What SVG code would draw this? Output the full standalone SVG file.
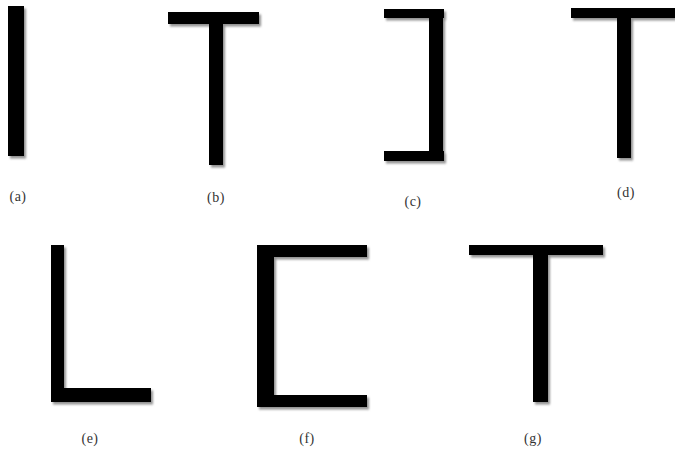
<svg xmlns="http://www.w3.org/2000/svg" width="675" height="453" viewBox="0 0 675 453">
<defs>
<filter id="sh" x="-20%" y="-20%" width="150%" height="150%">
<feDropShadow dx="2" dy="2.5" stdDeviation="1" flood-color="#777" flood-opacity="0.8"/>
</filter>
<style>
.b{fill:#000}
.s{filter:url(#sh)}
.lbl{font-family:"Liberation Serif","Times New Roman",serif;font-size:14px;letter-spacing:0.5px;fill:#333;text-anchor:middle}
</style>
</defs>
<rect width="675" height="453" fill="#fff"/>
<g id="a">
<g class="s"><rect class="b" x="8" y="6" width="16" height="150"/></g>
<text class="lbl" x="18" y="201">(a)</text>
</g>
<g id="b">
<g class="s"><rect class="b" x="168" y="12" width="91" height="12"/><rect class="b" x="209" y="24" width="14" height="141"/></g>
<text class="lbl" x="216" y="202">(b)</text>
</g>
<g id="c">
<g class="s"><rect class="b" x="384" y="9" width="60" height="9"/><rect class="b" x="429" y="18" width="14" height="134"/><rect class="b" x="384" y="151" width="60" height="10"/></g>
<text class="lbl" x="413" y="206">(c)</text>
</g>
<g id="d">
<g class="s"><rect class="b" x="571" y="8" width="104" height="10"/><rect class="b" x="617" y="18" width="14" height="140"/></g>
<text class="lbl" x="626" y="197">(d)</text>
</g>
<g id="e">
<g class="s"><rect class="b" x="51" y="245" width="13" height="157"/><rect class="b" x="51" y="388" width="100" height="14"/></g>
<text class="lbl" x="90" y="443">(e)</text>
</g>
<g id="f">
<g class="s"><rect class="b" x="257" y="245" width="110" height="12"/><rect class="b" x="257" y="257" width="17" height="150"/><rect class="b" x="257" y="395" width="110" height="12"/></g>
<text class="lbl" x="307" y="443">(f)</text>
</g>
<g id="g">
<g class="s"><rect class="b" x="469" y="245" width="134" height="10"/><rect class="b" x="533" y="255" width="15" height="147"/></g>
<text class="lbl" x="533" y="443">(g)</text>
</g>
</svg>
